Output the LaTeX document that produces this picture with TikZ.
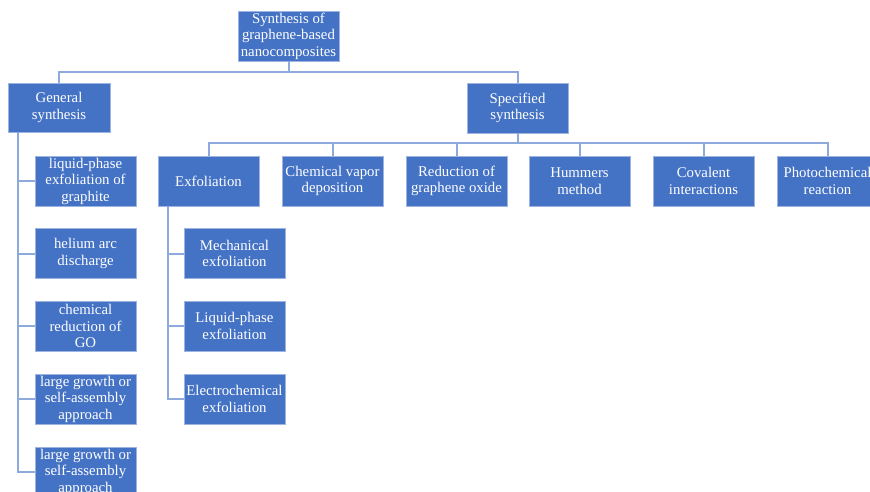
\documentclass[tikz,border=0pt]{standalone}
\usepackage{fontspec}
\setmainfont{Liberation Serif}
\definecolor{boxblue}{HTML}{4472C4}
\definecolor{edgeblue}{HTML}{9DB3E0}
\definecolor{lineblue}{HTML}{8EA9DB}
\tikzset{
  box/.style={rectangle, fill=boxblue, draw=edgeblue, line width=0.8pt, text=white,
    minimum width=101pt, minimum height=50pt, inner sep=1pt, align=center,
    font=\fontsize{14.8}{16.5}\selectfont},
  conn/.style={draw=lineblue, line width=2pt}
}
\begin{document}
\begin{tikzpicture}[x=1pt,y=-1pt]
\useasboundingbox (0,0) rectangle (870,491);
\fill[white] (0,0) rectangle (870,491);
% nodes
\node[box] (root) at (288.5,36) {Synthesis of\\graphene-based\\nanocomposites};
\node[box, minimum width=102pt, minimum height=49pt] (gen) at (59,107.5) {General\\synthesis};
\node[box] (spec) at (517.5,108) {Specified\\synthesis};
\node[box] (exf) at (208.5,181) {Exfoliation};
\node[box] (cvd) at (332.5,181) {Chemical vapor\\deposition};
\node[box] (red) at (456.5,181) {Reduction of\\graphene oxide};
\node[box] (hum) at (579.5,181) {Hummers\\method};
\node[box] (cov) at (703.5,181) {Covalent\\interactions};
\node[box] (pho) at (827.5,181) {Photochemical\\reaction};
\node[box] (g1) at (85.5,181) {liquid-phase\\exfoliation of\\graphite};
\node[box] (g2) at (85.5,253.5) {helium arc\\discharge};
\node[box] (g3) at (85.5,326) {chemical\\reduction of\\GO};
\node[box] (g4) at (85.5,399) {large growth or\\self-assembly\\approach};
\node[box] (g5) at (85.5,472) {large growth or\\self-assembly\\approach};
\node[box] (e1) at (234.5,253.5) {Mechanical\\exfoliation};
\node[box] (e2) at (234.5,326) {Liquid-phase\\exfoliation};
\node[box] (e3) at (234.5,399) {Electrochemical\\exfoliation};
% connectors
\draw[conn] (gen.north) -- ++(0,-11) -| (root.south);
\draw[conn] (spec.north) -- ++(0,-11) -| (root.south);
\foreach \n in {exf,cvd,red,hum,cov,pho}
  \draw[conn] (\n.north) -- ++(0,-13) -| (spec.south);
\foreach \n in {g1,g2,g3,g4,g5}
  \draw[conn] ([xshift=10pt]gen.south west) |- (\n.west);
\foreach \n in {e1,e2,e3}
  \draw[conn] ([xshift=10pt]exf.south west) |- (\n.west);
\end{tikzpicture}
\end{document}
